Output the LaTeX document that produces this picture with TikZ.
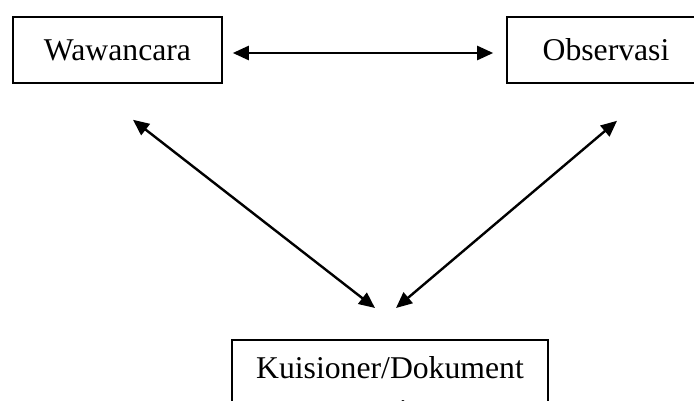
\documentclass[tikz,border=0pt]{standalone}
\usepackage{fontspec}
\setmainfont{Liberation Serif}
\usetikzlibrary{arrows.meta}
\tikzset{
  box/.style={draw,line width=1.6pt,inner sep=0pt,font=\fontsize{31.7}{43}\selectfont},
  link/.style={{Triangle[length=16pt,width=14pt]}-{Triangle[length=16pt,width=14pt]},line width=2.4pt}
}
\begin{document}
\begin{tikzpicture}[x=1pt,y=-1pt]
\useasboundingbox (0,0) rectangle (694,401);
\clip (0,0) rectangle (694,401);
\node[box,minimum width=209pt,minimum height=66pt] (W) at (117.5,50) {Wawancara};
\node[box,minimum width=198pt,minimum height=66pt] (O) at (606,50) {Observasi};
\node[box,anchor=north,minimum width=316pt,align=center,inner ysep=17pt] (K) at (390,339) {Kuisioner/Dokument\\asi};
\draw[link] ([shift={(10,3)}]W.east) -- ([shift={(-13,3)}]O.west);
\draw[link] ([shift={(15.5,36)}]W.south) -- ([shift={(-15,-31)}]K.north);
\draw[link] ([shift={(11,37)}]O.south) -- ([shift={(6,-31)}]K.north);
\end{tikzpicture}
\end{document}
